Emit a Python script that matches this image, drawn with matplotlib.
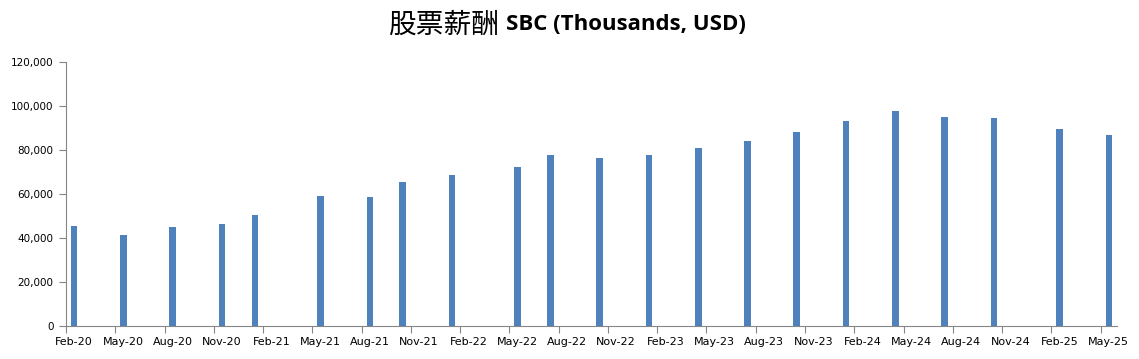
import matplotlib.pyplot as plt
import matplotlib.ticker as mticker
import pandas as pd

# quarter report months and SBC values (thousands USD)
months = ["2020-02", "2020-05", "2020-08", "2020-11", "2021-01", "2021-05",
          "2021-08", "2021-10", "2022-01", "2022-05", "2022-07", "2022-10",
          "2023-01", "2023-04", "2023-07", "2023-10", "2024-01", "2024-04",
          "2024-07", "2024-10", "2025-02", "2025-05"]
sbc = [45500, 41400, 45000, 46400, 50500, 59100, 58600, 65500, 68600, 72300,
       77700, 76400, 77700, 80900, 84100, 88200, 93200, 97700, 95000, 94500,
       89500, 86800]

axis_start = pd.Period("2020-02", freq="M")
axis_end = pd.Period("2025-06", freq="M")
tick_months = pd.period_range("2020-02", "2025-05", freq="M")[::3]

def month_pos(p):
    return (p - axis_start).n

xs = [month_pos(pd.Period(m, freq="M")) + 0.5 for m in months]

fig = plt.figure(figsize=(11.39, 3.59), dpi=100)
ax = fig.add_axes([66 / 1139, 33 / 359, 1051 / 1139, 264 / 359])

ax.bar(xs, sbc, width=0.4, color="#4F81BD")

ax.set_xlim(0, month_pos(axis_end))
ax.set_ylim(0, 120000)

major = [month_pos(p) for p in tick_months]
ax.set_xticks(major)
ax.set_xticklabels([])
ax.set_xticks([m + 0.5 for m in major], minor=True)
ax.set_xticklabels([p.strftime("%b-%y") for p in tick_months], minor=True)
ax.tick_params(axis="x", which="major", length=5, color="#868686", direction="out")
ax.tick_params(axis="x", which="minor", length=0, labelsize=8, pad=8)

ax.set_yticks(range(0, 120001, 20000))
ax.yaxis.set_major_formatter(mticker.FuncFormatter(lambda v, _: f"{int(v):,}"))
ax.tick_params(axis="y", length=5, color="#868686", labelsize=7.5, pad=4)

for s in ["top", "right"]:
    ax.spines[s].set_visible(False)
for s in ["left", "bottom"]:
    ax.spines[s].set_color("#868686")

fig.text(499 / 1139, 1 - 25 / 359, "股票薪酬", ha="right", va="center",
         fontsize=20, family=["Noto Sans CJK SC", "DejaVu Sans"])
fig.text(506 / 1139, 1 - 25 / 359, "SBC (Thousands, USD)", ha="left", va="center",
         fontsize=16, fontweight="bold", family=["Open Sans", "DejaVu Sans"])

fig.savefig("out.png", dpi=100)
